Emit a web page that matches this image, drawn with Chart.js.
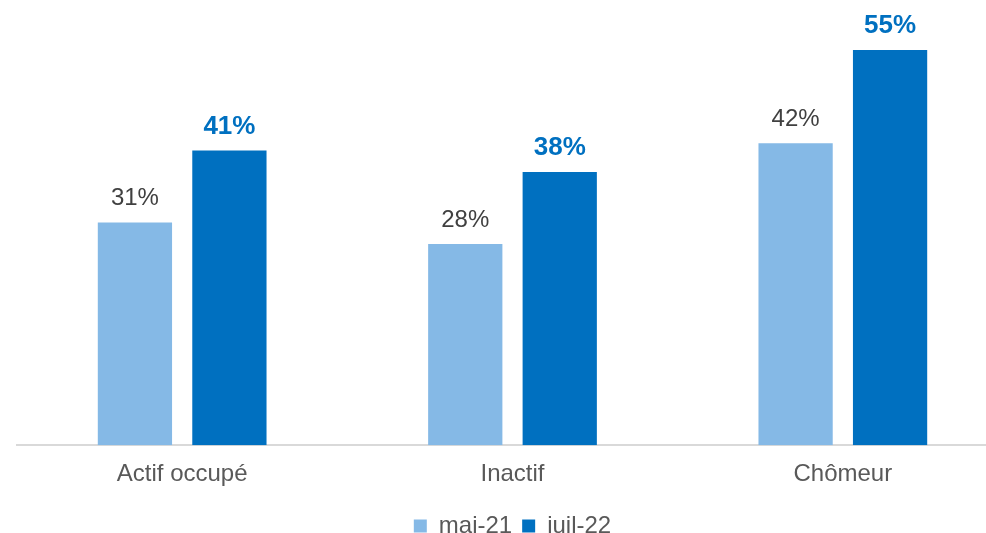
<!DOCTYPE html>
<html>
<head>
<meta charset="utf-8">
<script src="https://cdn.jsdelivr.net/npm/chart.js@4/dist/chart.umd.min.js"></script>
<style>
  html, body { margin: 0; padding: 0; background: #fff; overflow: hidden; }
  #wrap { position: relative; width: 1026px; height: 548px; }
</style>
</head>
<body>
<div id="wrap"><canvas id="barChart"></canvas></div>
<script>
var categories = ['Actif occupé', 'Inactif', 'Chômeur'];
var seriesNames = ['mai-21', 'juil-22'];
var mai21 = [31, 28, 42];
var juil22 = [41, 38, 55];

var FONT = "'Liberation Sans', Arial, sans-serif";

// valeurs au-dessus des barres
var valueLabels = {
  id: 'valueLabels',
  afterDatasetsDraw(chart) {
    var ctx = chart.ctx;
    ctx.save();
    ctx.textAlign = 'center';
    ctx.textBaseline = 'alphabetic';
    chart.data.datasets.forEach((ds, i) => {
      var meta = chart.getDatasetMeta(i);
      if (i === 0) {
        ctx.font = '24px ' + FONT;
        ctx.fillStyle = '#404040';
      } else {
        ctx.font = 'bold 26px ' + FONT;
        ctx.fillStyle = '#0070C0';
      }
      meta.data.forEach((bar, j) => {
        ctx.fillText(ds.data[j] + '%', bar.x, bar.y - 17);
      });
    });
    ctx.restore();
  }
};

var ctx = document.getElementById('barChart').getContext('2d');

new Chart(ctx, {
  type: 'bar',
  data: {
    labels: categories,
    datasets: [
      {
        label: seriesNames[0],
        backgroundColor: '#85B9E6',
        data: mai21,
        categoryPercentage: 0.572,
        barPercentage: 0.786
      },
      {
        label: seriesNames[1],
        backgroundColor: '#0070C0',
        data: juil22,
        categoryPercentage: 0.572,
        barPercentage: 0.786
      }
    ]
  },
  options: {
    responsive: true,
    maintainAspectRatio: false,
    animation: false,
    layout: { padding: { left: 17, right: 18, top: 14, bottom: 0 } },
    scales: {
      x: {
        grid: { display: false, drawTicks: false },
        border: { display: true, color: '#D9D9D9', width: 2 },
        ticks: {
          padding: 15,
          color: '#595959',
          font: { family: FONT, size: 24 }
        }
      },
      y: {
        display: false,
        min: 0,
        max: 60
      }
    },
    plugins: {
      tooltip: { enabled: false },
      legend: {
        position: 'bottom',
        labels: {
          boxWidth: 13,
          boxHeight: 13,
          padding: 10,
          color: '#595959',
          font: { family: FONT, size: 24 }
        }
      }
    }
  },
  plugins: [valueLabels]
});
</script>
</body>
</html>
